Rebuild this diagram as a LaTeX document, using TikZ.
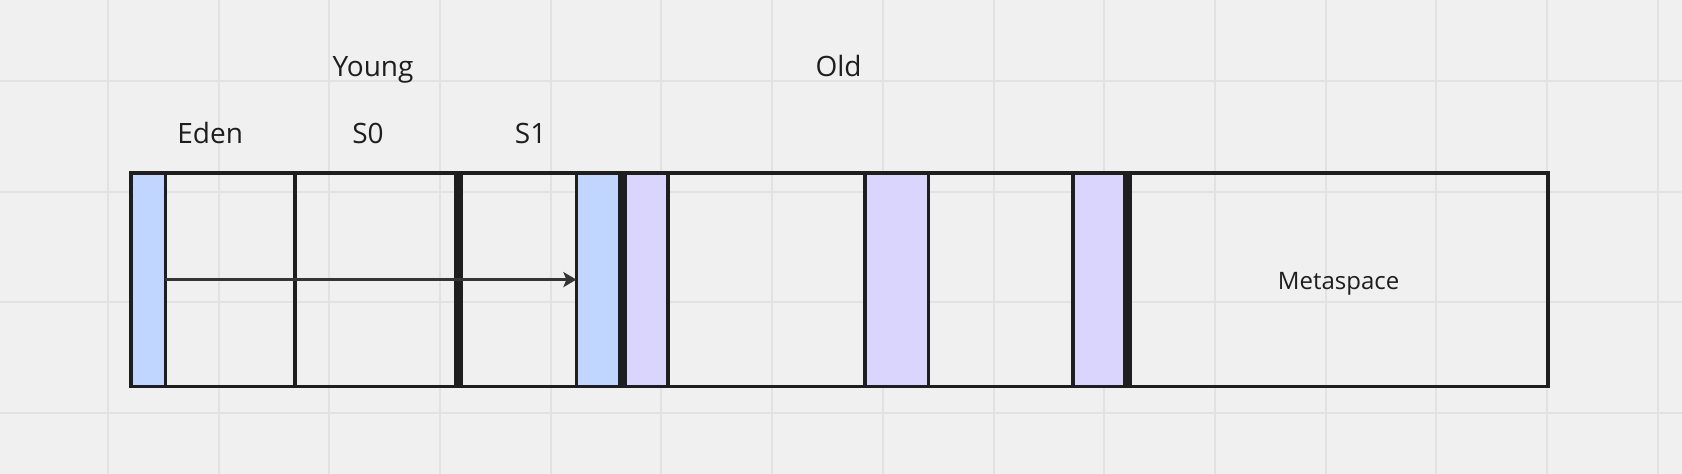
\documentclass[tikz,border=0pt]{standalone}
\usepackage{fontspec}
\setmainfont{Open Sans}
\usetikzlibrary{arrows.meta}
\definecolor{bgc}{HTML}{F0F0F0}
\definecolor{gridc}{HTML}{E2E2E2}
\definecolor{linec}{HTML}{1E1E1E}
\definecolor{bluec}{HTML}{C0D6FF}
\definecolor{purc}{HTML}{D9D5FD}
\tikzset{
  gridline/.style={draw=gridc, line width=2pt},
  cell/.style={rectangle, draw=linec, line width=3.5pt, inner sep=0pt, outer sep=0pt, minimum height=213.8pt},
  thickdiv/.style={draw=linec, line width=9pt},
  outerbox/.style={draw=linec, line width=3.7pt},
  biglabel/.style={font=\fontsize{28}{32}\selectfont, text=linec, anchor=base, inner sep=0pt},
  metalabel/.style={font=\fontsize{24}{28}\selectfont, text=linec, anchor=base, inner sep=0pt},
  flow/.style={draw=linec!90, line width=2.8pt, -{Stealth[length=13pt, width=15pt, inset=3pt]}}
}
\begin{document}
\begin{tikzpicture}[x=1pt,y=-1pt]
\useasboundingbox (0,0) rectangle (1682,474);
\fill[bgc] (0,0) rectangle (1682,474);
% grid
\foreach \i in {0,...,14} \draw[gridline] ({107.9+110.7*\i},0) -- ({107.9+110.7*\i},474);
\foreach \j in {0,...,3} \draw[gridline] (0,{81+110.7*\j}) -- (1682,{81+110.7*\j});
% cells
\node[cell, fill=bluec, minimum width=34.4pt] (blueA) at (148.2,279.6) {};
\node[cell, minimum width=129.6pt] (eden) at (230.2,279.6) {};
\node[cell, minimum width=163pt] (szero) at (376.5,279.6) {};
\node[cell, minimum width=118.4pt] (sone) at (517.2,279.6) {};
\node[cell, fill=bluec, minimum width=45.9pt] (blueB) at (599.35,279.6) {};
\node[cell, fill=purc, minimum width=45.7pt] (purA) at (645.15,279.6) {};
\node[cell, minimum width=197pt] (oldA) at (766.5,279.6) {};
\node[cell, fill=purc, minimum width=63.7pt] (purB) at (896.85,279.6) {};
\node[cell, minimum width=144.5pt] (oldB) at (1000.95,279.6) {};
\node[cell, fill=purc, minimum width=53.8pt] (purC) at (1100.1,279.6) {};
\node[cell, minimum width=421.2pt] (meta) at (1337.6,279.6) {};
% thick dividers
\draw[thickdiv] (sone.north west) -- (sone.south west);
\draw[thickdiv] (purA.north west) -- (purA.south west);
\draw[thickdiv] (meta.north west) -- (meta.south west);
% outer frame
\draw[outerbox] (blueA.north west) rectangle (meta.south east);
% arrow
\draw[flow] (blueA.east) -- (blueB.west);
% labels
\node[biglabel] (young) at (373,76.7) {Young};
\node[biglabel] (old) at (838.6,76.7) {Old};
\node[biglabel] (edenl) at (210.2,143.3) {Eden};
\node[biglabel] (s0l) at (368,143.3) {S0};
\node[biglabel] (s1l) at (530.6,143.3) {S1};
\node[metalabel] (metal) at (1338.6,289.3) {Metaspace};
\end{tikzpicture}
\end{document}
